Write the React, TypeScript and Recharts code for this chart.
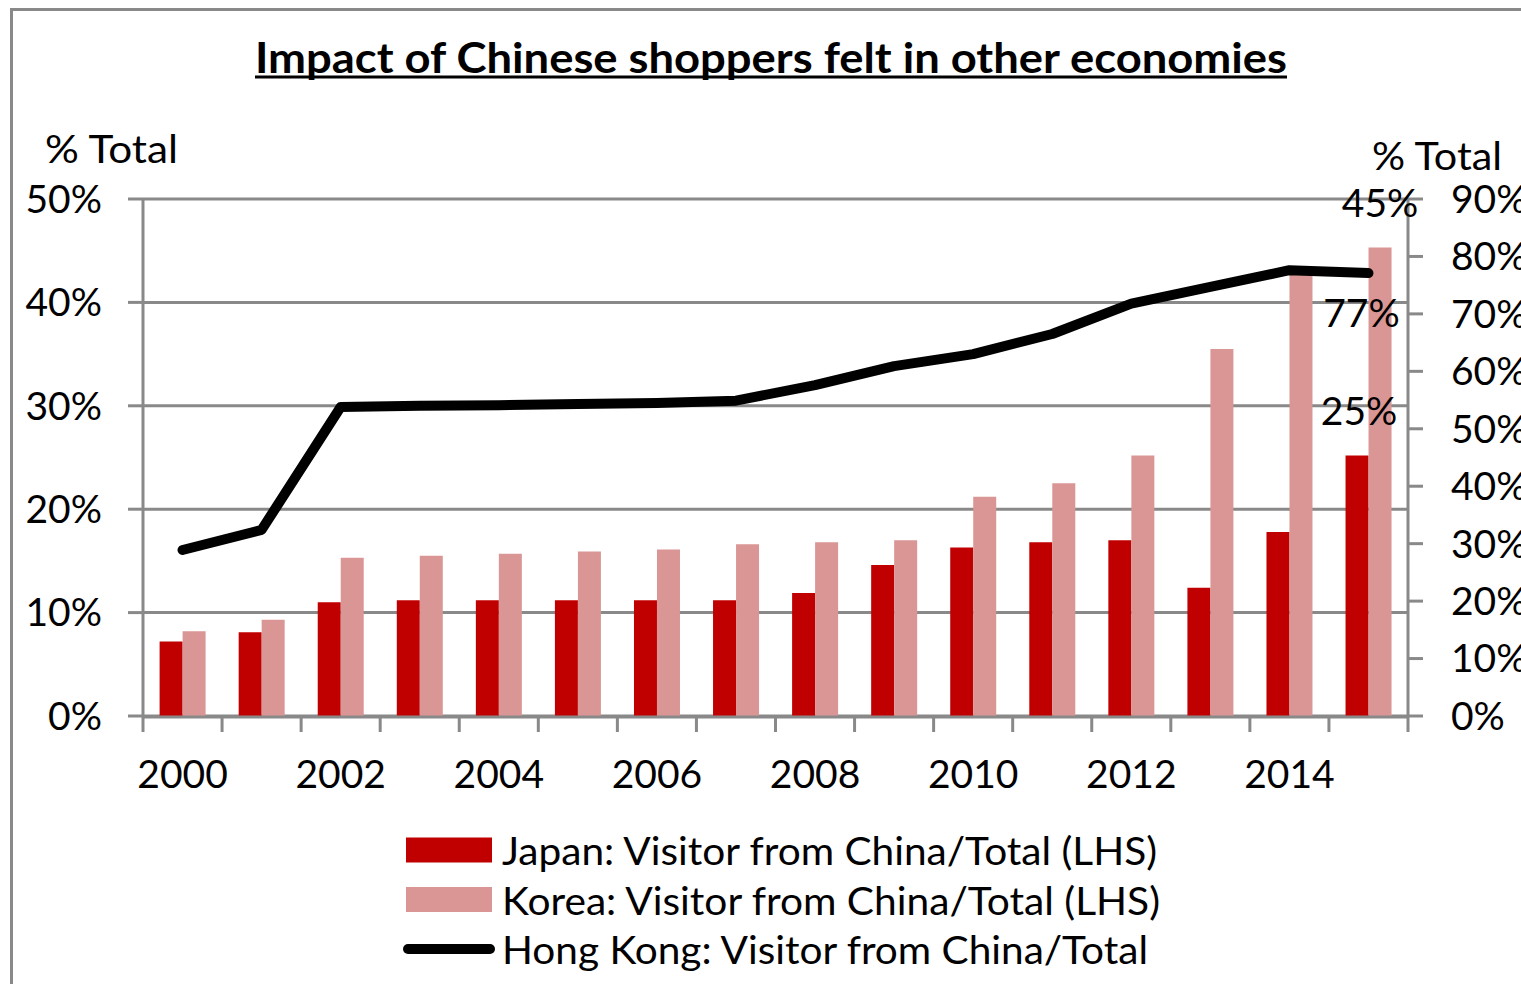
import { ComposedChart, Bar, Line, XAxis, YAxis, CartesianGrid, Legend, LabelList } from 'recharts';

const years = ['2000', '2001', '2002', '2003', '2004', '2005', '2006', '2007', '2008', '2009', '2010', '2011', '2012', '2013', '2014', '2015'];
const japanShare = [7.2, 8.1, 11.0, 11.2, 11.2, 11.2, 11.2, 11.2, 11.9, 14.6, 16.3, 16.8, 17.0, 12.4, 17.8, 25.2];
const koreaShare = [8.2, 9.3, 15.3, 15.5, 15.7, 15.9, 16.1, 16.6, 16.8, 17.0, 21.2, 22.5, 25.2, 35.5, 43.0, 45.3];
const hongKongShare = [28.9, 32.4, 53.8, 54.0, 54.1, 54.3, 54.5, 54.9, 57.6, 60.9, 63.0, 66.5, 71.8, 74.7, 77.6, 77.1];

const seriesNames = [
  'Japan: Visitor from China/Total (LHS)',
  'Korea: Visitor from China/Total (LHS)',
  'Hong Kong: Visitor from China/Total',
];

const leftTicks = [0, 10, 20, 30, 40, 50];
const rightTicks = [0, 10, 20, 30, 40, 50, 60, 70, 80, 90];
const edgeTicks = [0, 1, 2, 3, 4, 5, 6, 7, 8, 9, 10, 11, 12, 13, 14, 15, 16];

const JAPAN = '#C00000';
const KOREA = '#D99694';
const GRAY = '#898989';
const FONT = 'Lato, "Open Sans", sans-serif';

// slot = middle of each category on the boundary-tick axis
const rows = years.map((year, i) => ({
  year,
  slot: i + 0.5,
  japan: japanShare[i],
  korea: koreaShare[i],
  hk: hongKongShare[i],
}));

const lastIdx = years.length - 1;
const pct = (v: number) => `${v}%`;
const noLabel = () => <g />;

// only the last point gets a value label (like the excel original)
const makeLabel = (dx: number, dy: number) => (p: any) => {
  if (p.index !== lastIdx) return null;
  const vb = p.viewBox || {};
  const x = vb.x ?? p.x;
  const y = vb.y ?? p.y;
  const w = vb.width ?? p.width ?? 0;
  return (
    <text x={x + w / 2 + dx} y={y + dy} textAnchor="middle" fontSize={39} fontFamily={FONT} fill="#000">
      {Math.round(p.value)}%
    </text>
  );
};

const legendWidths = [655, 658, 646];

const renderLegend = (props: any) => {
  const payload = [...(props.payload || [])].sort(
    (a: any, b: any) => seriesNames.indexOf(a.value) - seriesNames.indexOf(b.value)
  );
  return (
    <svg width={1521} height={160}>
      {payload.map((item: any, i: number) => {
        const cy = 30 + i * 49.5;
        return (
          <g key={item.value}>
            {item.type === 'line' ? (
              <line x1={408} x2={490} y1={cy} y2={cy} stroke={item.color} strokeWidth={10} strokeLinecap="round" />
            ) : (
              <rect x={406} y={cy - 12.5} width={86} height={25} fill={item.color} />
            )}
            <text
              x={502}
              y={cy + 15}
              fontSize={39}
              fontFamily={FONT}
              fill="#000"
              textLength={legendWidths[i]}
              lengthAdjust="spacingAndGlyphs"
            >
              {item.value}
            </text>
          </g>
        );
      })}
    </svg>
  );
};

export default function App() {
  return (
    <div style={{ position: 'absolute', left: 0, top: 0, width: 1521, height: 984, overflow: 'hidden', background: '#fff' }}>
      <div
        style={{
          position: 'absolute',
          left: 10,
          top: 8,
          width: 1700,
          height: 1200,
          border: `3px solid ${GRAY}`,
        }}
      />
      <div style={{ position: 'absolute', left: 0, top: 0 }}>
        <ComposedChart
          width={1521}
          height={984}
          data={rows}
          margin={{ top: 199, right: 0, bottom: 266, left: 0 }}
          barCategoryGap="21%"
          barGap={0}
        >
          <CartesianGrid xAxisId="cat" yAxisId="left" vertical={false} stroke={GRAY} strokeWidth={3} />
          {/* tick marks sit on the category boundaries, like excel */}
          <XAxis
            xAxisId="edge"
            type="number"
            dataKey="slot"
            scale="linear"
            domain={[0, 16]}
            ticks={edgeTicks}
            interval={0}
            allowDataOverflow
            height={1}
            tick={noLabel}
            tickSize={15}
            tickLine={{ stroke: GRAY, strokeWidth: 3 }}
            axisLine={{ stroke: GRAY, strokeWidth: 3 }}
          />
          <XAxis
            xAxisId="cat"
            dataKey="year"
            height={1}
            interval={1}
            tickLine={false}
            axisLine={false}
            tickSize={15}
            tickMargin={29}
            tick={{ fill: '#000', fontSize: 39, fontFamily: FONT }}
          />
          <YAxis
            yAxisId="left"
            width={143}
            domain={[0, 50]}
            ticks={leftTicks}
            tickFormatter={pct}
            tickSize={15}
            tickMargin={26}
            tickLine={{ stroke: GRAY, strokeWidth: 3 }}
            axisLine={{ stroke: GRAY, strokeWidth: 3 }}
            tick={{ fill: '#000', fontSize: 39, fontFamily: FONT }}
          />
          <YAxis
            yAxisId="right"
            orientation="right"
            width={113}
            domain={[0, 90]}
            ticks={rightTicks}
            tickFormatter={pct}
            tickSize={15}
            tickMargin={28}
            tickLine={{ stroke: GRAY, strokeWidth: 3 }}
            axisLine={{ stroke: GRAY, strokeWidth: 3 }}
            tick={{ fill: '#000', fontSize: 39, fontFamily: FONT }}
          />
          <Bar
            xAxisId="cat"
            yAxisId="left"
            dataKey="japan"
            name={seriesNames[0]}
            fill={JAPAN}
            legendType="rect"
            isAnimationActive={false}
          >
            <LabelList dataKey="japan" content={makeLabel(2, -30)} />
          </Bar>
          <Bar
            xAxisId="cat"
            yAxisId="left"
            dataKey="korea"
            name={seriesNames[1]}
            fill={KOREA}
            legendType="rect"
            isAnimationActive={false}
          >
            <LabelList dataKey="korea" content={makeLabel(0, -31)} />
          </Bar>
          <Line
            xAxisId="cat"
            yAxisId="right"
            type="linear"
            dataKey="hk"
            name={seriesNames[2]}
            stroke="#000"
            strokeWidth={10}
            strokeLinecap="round"
            strokeLinejoin="round"
            dot={false}
            activeDot={false}
            legendType="line"
            isAnimationActive={false}
          >
            <LabelList dataKey="hk" content={makeLabel(-7, 54)} />
          </Line>
          <Legend
            content={renderLegend}
            layout="horizontal"
            verticalAlign="middle"
            align="center"
            wrapperStyle={{ position: 'absolute', left: 0, top: 820, width: 1521, height: 160 }}
          />
        </ComposedChart>
      </div>
      <svg width={1521} height={984} style={{ position: 'absolute', left: 0, top: 0, pointerEvents: 'none' }}>
        <text
          x={771}
          y={73}
          textAnchor="middle"
          fontSize={42}
          fontWeight={700}
          fontFamily={FONT}
          fill="#000"
          textLength={1032}
          lengthAdjust="spacingAndGlyphs"
        >
          Impact of Chinese shoppers felt in other economies
        </text>
        <line x1={255} x2={1287} y1={77} y2={77} stroke="#000" strokeWidth={3} />
        <text x={45} y={163} fontSize={39} fontFamily={FONT} fill="#000" textLength={133} lengthAdjust="spacingAndGlyphs">
          % Total
        </text>
        <text x={1372} y={170} fontSize={39} fontFamily={FONT} fill="#000" textLength={130} lengthAdjust="spacingAndGlyphs">
          % Total
        </text>
      </svg>
    </div>
  );
}
